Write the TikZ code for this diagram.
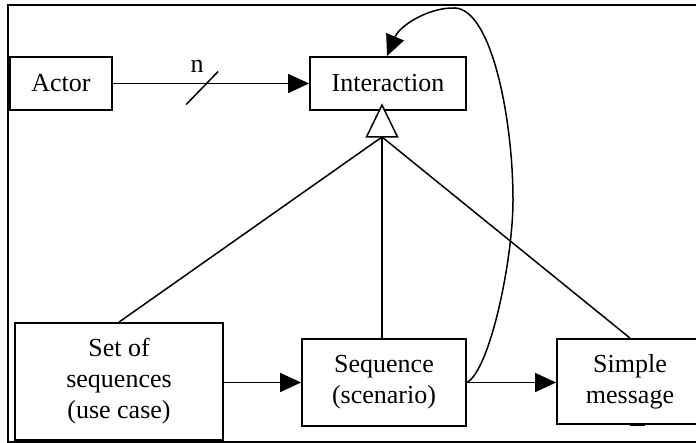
\documentclass[tikz,border=0pt]{standalone}
\usepackage{fontspec}
\setmainfont{Liberation Serif}
\usetikzlibrary{arrows.meta,calc}
\begin{document}
\begin{tikzpicture}[x=1pt,y=-1pt,line width=1.5pt,
  box/.style={draw,line width=1.8pt,inner sep=0pt,align=center,font=\fontsize{26}{31}\selectfont},
  tipfill/.style={-{Triangle[length=21pt,width=19pt]}},
  frame/.style={line width=2.2pt}]
\useasboundingbox (0,0) rectangle (696,443);
\clip (0,0) rectangle (696,443);
% frame
\draw[frame] (700,5) -- (8,5) -- (8,442) -- (700,442);
% nodes
\node[box,minimum width=102pt,minimum height=53pt] (actor) at (61,83.5) {Actor};
\node[box,minimum width=156pt,minimum height=53pt] (inter) at (388,83.5) {Interaction};
\node[box,minimum width=208pt,minimum height=117pt] (setseq) at (119,381.5) {Set of\\sequences\\(use case)};
\node[box,minimum width=164pt,minimum height=87pt] (seq) at (384,382.5) {Sequence\\(scenario)};
\node[box,minimum width=146pt,minimum height=85pt] (simple) at (630,381.5) {Simple\\message};
% actor -> interaction with multiplicity slash
\draw[tipfill] (actor) -- (inter);
\path (actor.east) -- (inter.west) coordinate[pos=0.455] (mid);
\draw ([shift={(-16,21)}]mid) -- ([shift={(16,-12)}]mid);
\node[font=\fontsize{26}{31}\selectfont,inner sep=0pt] (nlab) at (197,66.5) {n};
% generalization
\coordinate (gen) at (382,137);
\coordinate (apex) at (382,105);
\draw (gen) -- (setseq.north);
\draw (gen) -- (gen |- seq.north);
\draw (gen) -- (simple.north);
\draw[fill=white] ($(gen)+(-15.5,0)$) -- (apex) -- ($(gen)+(15.5,0)$) -- cycle;
% horizontal arrows
\draw[tipfill] (setseq.east |- seq.east) -- (seq.west);
\draw[tipfill] (seq.east) -- (seq.east -| simple.west);
% self loop curve
\draw[tipfill] (seq.east) .. controls (490,370) and (513,260) .. (513,200)
  .. controls (513,120) and (492,10) .. (455,8)
  .. controls (430,7) and (400,25) .. ([xshift=-1pt]inter.north);
% small mark under Simple message
\draw[line width=2.5pt] (630,424.5) -- (645,424.5);
\end{tikzpicture}
\end{document}
